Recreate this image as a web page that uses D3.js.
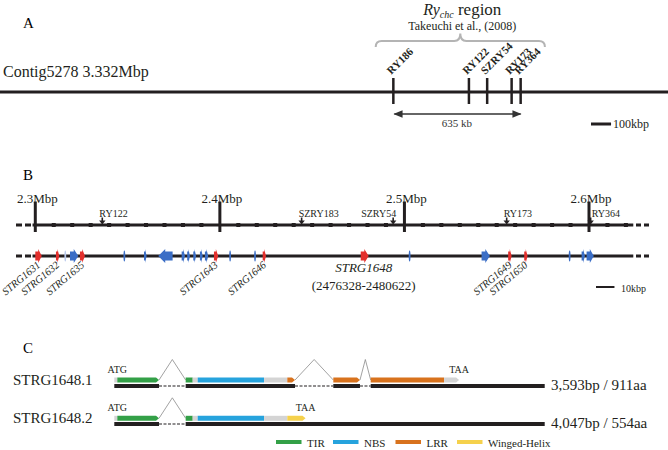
<!DOCTYPE html>
<html>
<head>
<meta charset="utf-8">
<script src="https://cdn.jsdelivr.net/npm/d3@7"></script>
<style>
body{margin:0;background:#fff;}
svg{display:block;font-family:"Liberation Serif","Times New Roman",serif;}
</style>
</head>
<body>
<svg id="fig" width="668" height="450"></svg>
<script>
// ---- panel A data (kbp on the contig)
const contigLabel = 'Contig5278 3.332Mbp';
const contigLenKb = 3332;
const contigMarkers = ['RY186', 'RY122', 'SZRY54', 'RY173', 'RY364'];
const contigMarkerKb = [1962, 2339, 2430, 2552, 2597];
const ryRegionKb = [1874, 2718];
const spanKb = 635;
const scaleBarAKb = 100;

// ---- panel B data (bp)
const majorTicks = [2300000, 2400000, 2500000, 2600000];
const majorLabels = ['2.3Mbp', '2.4Mbp', '2.5Mbp', '2.6Mbp'];
const markerNames = ['RY122', 'SZRY183', 'SZRY54', 'RY173', 'RY364'];
const markerPos = [2336300, 2444300, 2493900, 2555400, 2600900];
const geneNames = ['STRG1631', 'STRG1632', '', '', 'STRG1635', '', '', '', '', '', '', '', '', 'STRG1643',
    '', '', 'STRG1646', 'STRG1648', '', '', 'STRG1649', 'STRG1650', '', '', ''];
const geneStart = [2300000, 2311200, 2316000, 2318800, 2324200, 2348000, 2358900, 2366600, 2379300, 2382300,
    2385600, 2389200, 2391900, 2396800, 2405300, 2418800, 2423200, 2476328, 2502600, 2541800,
    2556200, 2564900, 2589300, 2596000, 2598700];
const geneEnd = [2303500, 2313000, 2316500, 2323300, 2326900, 2348500, 2360300, 2374400, 2381100, 2383800,
    2387100, 2390700, 2393700, 2399100, 2405800, 2419300, 2425000, 2480622, 2503000, 2546300,
    2558100, 2566700, 2589700, 2597800, 2602600];
const geneStrand = [1, 1, 1, 1, 1, 1, 1, -1, 1, 1, 1, 1, 1, 1, 1, 1, 1, 1, 1, 1, 1, 1, 1, 1, 1];
const geneKind = ['r', 'r', 'f', 'b', 'r', 'b', 'b', 'b', 'b', 'b', 'b', 'b', 'b', 'r',
    'b', 'b', 'r', 'r', 'b', 'b', 'r', 'r', 'b', 'b', 'b'];
const focusGene = 'STRG1648';
const focusRange = '(2476328-2480622)';
const scaleBarBbp = 10000;

// ---- panel C data (bp from STRG1648 start)
const txLen = 4294;
const txNames = ['STRG1648.1', 'STRG1648.2'];
const txInfo = ['3,593bp / 911aa', '4,047bp / 554aa'];
const txExons = [
    [[0, 446], [712, 1803], [2185, 2451], [2558, 4294]],
    [[0, 446], [712, 4294]]
];
const txDomStart = [
    [0, 30, 712, 782, 832, 1494, 1726, 2185, 2558, 3290],
    [0, 30, 712, 782, 832, 1494, 1726]
];
const txDomEnd = [
    [30, 446, 782, 832, 1494, 1726, 1803, 2451, 3290, 3440],
    [30, 446, 782, 832, 1494, 1726, 1908]
];
const txDomType = [
    ['none', 'TIR', 'TIR', 'none', 'NBS', 'none', 'LRR', 'LRR', 'LRR', 'none'],
    ['none', 'TIR', 'TIR', 'none', 'NBS', 'none', 'WH']
];
const legendKeys = ['TIR', 'NBS', 'LRR', 'WH'];
const legendLabels = ['TIR', 'NBS', 'LRR', 'Winged-Helix'];

const ink = '#231f20';
const domColor = {none: '#d4d4d4', TIR: '#33a047', NBS: '#26a3dd', LRR: '#d8721d', WH: '#f5d14c'};
const geneColor = {r: '#e3302d', b: '#3b6ec6', f: '#b8c9ec'};

const svg = d3.select('#fig');

// =========== A
const xA = d3.scaleLinear().domain([0, contigLenKb]).range([0, 668]);
svg.append('text').attr('x', 23).attr('y', 28).attr('font-size', 15).text('A');

let title = svg.append('text').attr('x', xA((ryRegionKb[0] + ryRegionKb[1]) / 2) + 2).attr('y', 14.5)
    .attr('text-anchor', 'middle').attr('font-size', 17).attr('fill', ink);
title.append('tspan').attr('font-style', 'italic').attr('font-size', 16).text('Ry');
title.append('tspan').attr('font-style', 'italic').attr('font-size', 10).attr('dy', 3).text('chc');
title.append('tspan').attr('dy', -3).text(' region');
svg.append('text').attr('x', xA((ryRegionKb[0] + ryRegionKb[1]) / 2) + 2).attr('y', 29.5)
    .attr('text-anchor', 'middle').attr('font-size', 12).attr('fill', ink).text('Takeuchi et al., (2008)');

// curly brace over the Ry region
let b0 = xA(ryRegionKb[0]), b1 = xA(ryRegionKb[1]), bm = (b0 + b1) / 2;
svg.append('path')
    .attr('d', `M${b0},47Q${b0},41 ${b0 + 6},41L${bm - 6},41Q${bm},41 ${bm},33.5Q${bm},41 ${bm + 6},41L${b1 - 6},41Q${b1},41 ${b1},47`)
    .attr('fill', 'none').attr('stroke', '#b4b4b4').attr('stroke-width', 2);

svg.append('text').attr('x', 3).attr('y', 77).attr('font-size', 16).attr('fill', ink).text(contigLabel);
svg.append('line').attr('x1', xA(0)).attr('x2', xA(contigLenKb)).attr('y1', 92).attr('y2', 92)
    .attr('stroke', ink).attr('stroke-width', 3);

contigMarkerKb.forEach((kb, i) => {
    let x = xA(kb);
    svg.append('line').attr('x1', x).attr('x2', x).attr('y1', 78).attr('y2', 104)
        .attr('stroke', ink).attr('stroke-width', 2.5);
    svg.append('text').attr('transform', 'translate(' + (x - 2) + ',75) rotate(-45)')
        .attr('font-size', 11).attr('font-weight', 'bold').attr('fill', ink).text(contigMarkers[i]);
});

// 635 kb span arrow
svg.append('defs').html(
    '<marker id="ah" viewBox="0 0 10 10" refX="9" refY="5" markerWidth="7" markerHeight="7" orient="auto-start-reverse">' +
    '<path d="M0,1L10,5L0,9Z" fill="#333"/></marker>');
svg.append('line').attr('x1', xA(contigMarkerKb[0]) + 1).attr('x2', xA(contigMarkerKb[0] + spanKb))
    .attr('y1', 114).attr('y2', 114).attr('stroke', '#333').attr('stroke-width', 1.3)
    .attr('marker-start', 'url(#ah)').attr('marker-end', 'url(#ah)');
svg.append('text').attr('x', xA(contigMarkerKb[0] + spanKb / 2)).attr('y', 127).attr('text-anchor', 'middle')
    .attr('font-size', 11).attr('fill', '#333').text(spanKb + ' kb');

let sbA = 591;
svg.append('line').attr('x1', sbA).attr('x2', sbA + xA(scaleBarAKb) - xA(0)).attr('y1', 124).attr('y2', 124)
    .attr('stroke', ink).attr('stroke-width', 3);
svg.append('text').attr('x', sbA + xA(scaleBarAKb) - xA(0) + 2).attr('y', 128).attr('font-size', 12)
    .attr('fill', ink).text(scaleBarAKb + 'kbp');

// =========== B
const xB = d3.scaleLinear().domain([2300000, 2600000]).range([35.3, 589]);
const rowScale = 225, rowGene = 256;
svg.append('text').attr('x', 23).attr('y', 180).attr('font-size', 15).text('B');

[rowScale, rowGene].forEach(y => {
    svg.append('line').attr('x1', xB(2298500)).attr('x2', xB(2624000)).attr('y1', y).attr('y2', y)
        .attr('stroke', ink).attr('stroke-width', 3);
    svg.append('line').attr('x1', 16).attr('x2', 31).attr('y1', y).attr('y2', y)
        .attr('stroke', ink).attr('stroke-width', 3).attr('stroke-dasharray', '6,3');
    svg.append('line').attr('x1', 636).attr('x2', 650).attr('y1', y).attr('y2', y)
        .attr('stroke', ink).attr('stroke-width', 3).attr('stroke-dasharray', '5,3');
});

svg.selectAll('.minor').data(d3.range(2300000, 2621000, 10000).filter(v => v % 100000 != 0))
    .enter().append('rect').attr('class', 'minor')
    .attr('x', d => xB(d) - 2).attr('y', rowScale - 2).attr('width', 4).attr('height', 4).attr('fill', ink);

majorTicks.forEach((v, i) => {
    svg.append('text').attr('x', xB(v) + 2).attr('y', 203).attr('text-anchor', 'middle')
        .attr('font-size', 13).attr('fill', ink).text(majorLabels[i]);
    svg.append('line').attr('x1', xB(v)).attr('x2', xB(v)).attr('y1', 201.5).attr('y2', 232)
        .attr('stroke', ink).attr('stroke-width', 3);
});

markerPos.forEach((v, i) => {
    let x = xB(v);
    svg.append('line').attr('x1', x).attr('x2', x).attr('y1', 217.5).attr('y2', 221)
        .attr('stroke', ink).attr('stroke-width', 1.6);
    svg.append('path').attr('d', `M${x - 3.2},220.5L${x + 3.2},220.5L${x},224.5Z`).attr('fill', ink);
    let right = markerNames[i] == 'SZRY54';
    svg.append('text').attr('x', right ? x + 3 : (markerNames[i] == 'RY364' ? x + 1 : x - 3)).attr('y', 216.5)
        .attr('text-anchor', right ? 'end' : 'start').attr('font-size', 10).attr('fill', ink)
        .text(markerNames[i]);
});

function geneShape(x0, x1, strand, y) {
    let w = x1 - x0, hh = 7, bh = 4.5;
    let head = Math.min(w * 0.55, 7);
    if (strand > 0)
        return `M${x0},${y - bh}L${x1 - head},${y - bh}L${x1 - head},${y - hh}L${x1},${y}L${x1 - head},${y + hh}L${x1 - head},${y + bh}L${x0},${y + bh}Z`;
    return `M${x1},${y - bh}L${x0 + head},${y - bh}L${x0 + head},${y - hh}L${x0},${y}L${x0 + head},${y + hh}L${x0 + head},${y + bh}L${x1},${y + bh}Z`;
}

geneStart.forEach((s, i) => {
    let x0 = xB(s), x1 = xB(geneEnd[i]);
    if (x1 - x0 < 1.5) {
        svg.append('ellipse').attr('cx', (x0 + x1) / 2).attr('cy', rowGene).attr('rx', 0.9).attr('ry', 5.5)
            .attr('fill', geneColor[geneKind[i]]);
    } else {
        svg.append('path').attr('d', geneShape(x0, x1, geneStrand[i], rowGene)).attr('fill', geneColor[geneKind[i]]);
    }
    let name = geneNames[i];
    if (name && name != focusGene) {
        svg.append('text').attr('transform', 'translate(' + ((x0 + x1) / 2 + 2.5) + ',266) rotate(-40)')
            .attr('text-anchor', 'end').attr('font-size', 10.5).attr('font-style', 'italic').attr('fill', ink).text(name);
    }
});

let fi = geneNames.indexOf(focusGene);
let fx = (xB(geneStart[fi]) + xB(geneEnd[fi])) / 2 - 1;
svg.append('text').attr('x', fx).attr('y', 272).attr('text-anchor', 'middle').attr('font-size', 13)
    .attr('font-style', 'italic').attr('fill', ink).text(focusGene);
svg.append('text').attr('x', fx).attr('y', 290).attr('text-anchor', 'middle').attr('font-size', 13)
    .attr('fill', ink).text(focusRange);

let sbB = 596;
svg.append('line').attr('x1', sbB).attr('x2', sbB + xB(2300000 + scaleBarBbp) - xB(2300000)).attr('y1', 287).attr('y2', 287)
    .attr('stroke', ink).attr('stroke-width', 2);
svg.append('text').attr('x', 621).attr('y', 291.5).attr('font-size', 10).attr('fill', ink).text('10kbp');

// =========== C
const xC = d3.scaleLinear().domain([0, txLen]).range([114.3, 544.7]);
const featY = [380, 418.3], genY = [386, 424];
svg.append('text').attr('x', 23).attr('y', 353).attr('font-size', 15).text('C');

txNames.forEach((name, t) => {
    svg.append('text').attr('x', 13).attr('y', featY[t] + 5).attr('font-size', 15).attr('fill', ink).text(name);
    svg.append('text').attr('x', 551).attr('y', genY[t] + 3.5).attr('font-size', 15).attr('fill', ink).text(txInfo[t]);

    let exons = txExons[t];
    // introns: dashed genomic line and caret
    for (let k = 0; k < exons.length - 1; k++) {
        let a = xC(exons[k][1]), b = xC(exons[k + 1][0]);
        svg.append('line').attr('x1', a).attr('x2', b).attr('y1', genY[t]).attr('y2', genY[t])
            .attr('stroke', ink).attr('stroke-width', 1.2).attr('stroke-dasharray', '3,1.5');
        svg.append('polyline').attr('points', `${a},${featY[t]} ${(a + b) / 2},${featY[t] - 20.5} ${b},${featY[t]}`)
            .attr('fill', 'none').attr('stroke', '#8a8a8a').attr('stroke-width', 0.8);
    }
    exons.forEach(e => {
        svg.append('rect').attr('x', xC(e[0])).attr('y', genY[t] - 2).attr('width', xC(e[1]) - xC(e[0])).attr('height', 4)
            .attr('fill', ink);
    });

    // domains on the coding row, last piece of each exon ends in a point
    let starts = txDomStart[t], ends = txDomEnd[t], types = txDomType[t];
    starts.forEach((s, k) => {
        let x0 = xC(s), x1 = xC(ends[k]), y = featY[t], h = 2.5;
        let tip = (k == starts.length - 1) || exons.some(e => e[1] == ends[k]);
        let d = tip
            ? `M${x0},${y - h}L${x1 - 3},${y - h}L${x1},${y}L${x1 - 3},${y + h}L${x0},${y + h}Z`
            : `M${x0},${y - h}L${x1},${y - h}L${x1},${y + h}L${x0},${y + h}Z`;
        svg.append('path').attr('d', d).attr('fill', domColor[types[k]]);
    });

    svg.append('text').attr('x', xC(starts[1])).attr('y', featY[t] - 7).attr('text-anchor', 'middle')
        .attr('font-size', 10).attr('fill', ink).text('ATG');
    svg.append('text').attr('x', xC(ends[ends.length - 1])).attr('y', featY[t] - 7).attr('text-anchor', 'middle')
        .attr('font-size', 10).attr('fill', ink).text('TAA');
});

// legend
const legendX = [276, 333, 395.5, 457];
legendKeys.forEach((k, i) => {
    svg.append('rect').attr('x', legendX[i]).attr('y', 440).attr('width', 25.5).attr('height', 4).attr('fill', domColor[k]);
    svg.append('text').attr('x', legendX[i] + 31).attr('y', 446.5).attr('font-size', 11).attr('fill', ink).text(legendLabels[i]);
});
</script>
</body>
</html>
